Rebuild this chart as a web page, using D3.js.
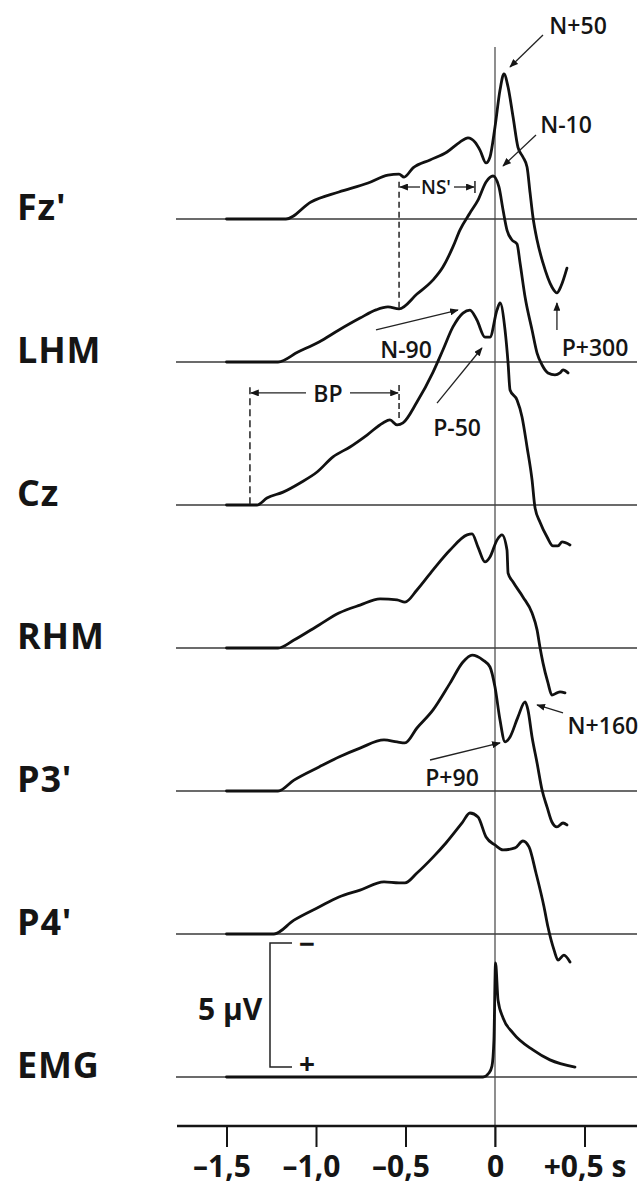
<!DOCTYPE html>
<html><head><meta charset="utf-8">
<script src="https://cdn.jsdelivr.net/npm/d3@7"></script>
<style>
html,body{margin:0;padding:0;background:#fff;}
svg{display:block;}
text{font-family:"Open Sans","DejaVu Sans",sans-serif;fill:#151515;}
</style></head><body>
<svg id="chart" width="641" height="1185"></svg>
<script>
// ---------- data ----------
const channels = ["Fz'", "LHM", "Cz", "RHM", "P3'", "P4'", "EMG"];
const timeTicks = [-1.5, -1.0, -0.5, 0, 0.5];
const timeTickLabels = ["–1,5", "–1,0", "–0,5", "0", "+0,5 s"];
const scaleBarMicroV = 5;

// [time (s), potential (µV)], negative plotted upward
const fzValues = [[-1.5,0],[-1.168,0],[-1.028,-0.69],[-0.872,-1.09],[-0.709,-1.45],[-0.598,-1.77],[-0.536,-1.81],[-0.508,-1.69],[-0.458,-2.06],[-0.363,-2.38],[-0.268,-2.70],[-0.196,-3.10],[-0.151,-3.27],[-0.112,-3.10],[-0.084,-2.78],[-0.050,-2.26],[-0.028,-2.50],[0.0,-3.71],[0.028,-5.20],[0.050,-5.85],[0.073,-5.32],[0.101,-4.11],[0.128,-2.90],[0.156,-2.50],[0.179,-2.10],[0.196,-1.05],[0.212,-0.08],[0.235,0.85],[0.268,1.77],[0.318,2.74],[0.346,2.98],[0.369,2.70],[0.402,1.98]];
const lhmValues = [[-1.5,0],[-1.212,0],[-1.101,-0.40],[-0.983,-0.81],[-0.872,-1.29],[-0.754,-1.77],[-0.665,-2.10],[-0.598,-2.22],[-0.536,-2.14],[-0.436,-2.74],[-0.346,-3.31],[-0.291,-3.83],[-0.235,-4.64],[-0.196,-5.32],[-0.140,-6.01],[-0.095,-6.53],[-0.050,-7.26],[-0.011,-7.50],[0.022,-7.06],[0.045,-6.13],[0.067,-5.32],[0.095,-4.92],[0.123,-4.76],[0.140,-3.99],[0.168,-2.62],[0.207,-1.29],[0.235,-0.36],[0.263,0.12],[0.296,0.44],[0.335,0.52],[0.363,0.44],[0.380,0.32],[0.408,0.44]];
const czValues = [[-1.5,0],[-1.330,0],[-1.274,-0.28],[-1.184,-0.52],[-1.089,-0.89],[-0.994,-1.33],[-0.905,-1.94],[-0.810,-2.34],[-0.715,-2.82],[-0.626,-3.31],[-0.587,-3.43],[-0.547,-3.23],[-0.514,-3.31],[-0.436,-4.15],[-0.346,-5.36],[-0.291,-6.25],[-0.235,-7.18],[-0.179,-7.74],[-0.140,-7.86],[-0.101,-7.46],[-0.056,-6.77],[-0.028,-6.77],[0.011,-7.86],[0.028,-8.15],[0.056,-7.06],[0.073,-5.73],[0.084,-4.64],[0.123,-4.23],[0.151,-3.55],[0.179,-2.34],[0.207,-1.01],[0.223,0.08],[0.251,0.69],[0.291,1.29],[0.324,1.65],[0.352,1.65],[0.374,1.49],[0.419,1.61]];
const rhmValues = [[-1.5,0],[-1.212,0],[-1.123,-0.32],[-0.983,-0.93],[-0.872,-1.41],[-0.754,-1.73],[-0.642,-1.98],[-0.547,-1.94],[-0.503,-1.85],[-0.436,-2.34],[-0.346,-3.15],[-0.251,-3.95],[-0.156,-4.56],[-0.128,-4.60],[-0.095,-4.07],[-0.056,-3.47],[-0.028,-3.67],[0.011,-4.35],[0.039,-4.56],[0.067,-3.95],[0.073,-3.02],[0.101,-2.66],[0.156,-2.06],[0.207,-1.41],[0.235,-0.73],[0.251,-0.04],[0.268,0.60],[0.296,1.41],[0.318,1.90],[0.346,1.81],[0.363,1.77],[0.391,1.81]];
const p3Values = [[-1.5,0],[-1.212,0],[-1.123,-0.44],[-0.983,-0.97],[-0.872,-1.37],[-0.754,-1.73],[-0.620,-2.06],[-0.547,-1.98],[-0.503,-1.94],[-0.436,-2.54],[-0.346,-3.27],[-0.251,-4.35],[-0.179,-5.20],[-0.128,-5.48],[-0.067,-5.28],[-0.028,-5.00],[0.0,-4.19],[0.028,-2.86],[0.056,-1.98],[0.084,-2.18],[0.128,-2.98],[0.168,-3.59],[0.184,-3.27],[0.207,-2.18],[0.235,-1.13],[0.263,-0.04],[0.291,0.65],[0.318,1.25],[0.346,1.45],[0.380,1.29],[0.402,1.37]];
const p4Values = [[-1.5,0],[-1.235,0],[-1.123,-0.56],[-0.983,-1.09],[-0.872,-1.49],[-0.754,-1.77],[-0.620,-2.10],[-0.536,-2.06],[-0.503,-2.06],[-0.436,-2.46],[-0.346,-3.10],[-0.274,-3.67],[-0.184,-4.48],[-0.140,-4.88],[-0.095,-4.72],[-0.050,-3.91],[0.0,-3.59],[0.045,-3.39],[0.112,-3.47],[0.156,-3.75],[0.190,-3.51],[0.229,-2.46],[0.274,-1.09],[0.296,-0.28],[0.330,0.65],[0.352,1.05],[0.385,0.85],[0.419,1.13]];
const emgValues = [[-1.5,0],[-0.067,0],[-0.034,-0.16],[-0.017,-0.44],[-0.006,-1.49],[0.003,-4.60],[0.017,-3.10],[0.045,-2.38],[0.101,-1.77],[0.212,-1.09],[0.307,-0.69],[0.447,-0.40]];
const seriesValues = [fzValues, lhmValues, czValues, rhmValues, p3Values, p4Values, emgValues];

// annotations: channel, text position (t, µV), arrow from/to (t, µV)
const peakLabels = ["N+50", "N-10", "N-90", "P+300", "P-50", "N+160", "P+90"];
const peakChannels = [0, 0, 2, 1, 2, 4, 4];
const peakTextPos = [[0.464,-7.82],[0.397,-3.83],[-0.497,-6.29],[0.559,-0.60],[-0.212,-3.15],[0.603,-2.66],[-0.240,-0.56]];
const peakArrowFrom = [[0.268,-7.42],[0.229,-3.39],[-0.665,-7.06],[0.346,-1.29],[-0.324,-4.11],[0.380,-3.15],[-0.363,-1.25]];
const peakArrowTo = [[0.084,-6.13],[0.045,-2.14],[-0.207,-7.86],[0.346,-2.38],[-0.073,-6.33],[0.235,-3.47],[0.028,-1.94]];

// intervals
const bpInterval = [-1.369, -0.536];   // BP on Cz
const nsInterval = [-0.536, -0.112];   // NS' on Fz'

// ---------- layout ----------
const svg = d3.select("#chart");
const x = d3.scaleLinear().domain([-1.5, 0.5]).range([226.5, 584.5]);
const chY = d3.scaleLinear().domain([0, 6]).range([219, 1077]);
const amp = d3.scaleLinear().domain([0, -scaleBarMicroV]).range([0, -124]);
const py = (ch, v) => chY(ch) + amp(v);
const axisY = 1126, lineX0 = 176, lineX1 = 637;

const defs = svg.append("defs");
defs.append("marker").attr("id","ah").attr("viewBox","0 0 10 8")
  .attr("refX",9).attr("refY",4).attr("markerWidth",9).attr("markerHeight",7)
  .attr("markerUnits","userSpaceOnUse").attr("orient","auto")
  .append("path").attr("d","M0,0 L10,4 L0,8 Z").attr("fill","#151515");

// baselines
svg.append("g").selectAll("line").data(channels).join("line")
  .attr("x1", lineX0).attr("x2", lineX1)
  .attr("y1", (d,i)=>chY(i)).attr("y2", (d,i)=>chY(i))
  .attr("stroke","#3a3a3a").attr("stroke-width",1.4);

// zero line
svg.append("line").attr("x1",x(0)).attr("x2",x(0))
  .attr("y1", py(0,-6.94)).attr("y2", axisY+21)
  .attr("stroke","#444").attr("stroke-width",1.2);

// channel labels
svg.append("g").selectAll("text").data(channels).join("text")
  .attr("x",17).attr("y",(d,i)=>chY(i)+1)
  .attr("font-size",36).attr("font-weight",700).attr("letter-spacing",0.8)
  .text(d=>d);

// traces
const line = d3.line().x(d=>x(d[0])).y(d=>amp(d[1])).curve(d3.curveMonotoneX);
svg.append("g").selectAll("path").data(seriesValues).join("path")
  .attr("transform",(d,i)=>`translate(0,${chY(i)})`)
  .attr("d", line).attr("fill","none").attr("stroke","#111")
  .attr("stroke-width",2.8).attr("stroke-linejoin","round").attr("stroke-linecap","round");

// time axis
const axis = d3.axisBottom(x).tickValues(timeTicks)
  .tickFormat((d,i)=>timeTickLabels[i]).tickSize(21).tickPadding(9);
const ag = svg.append("g").attr("transform",`translate(0,${axisY})`).call(axis);
ag.select(".domain").remove();
ag.selectAll(".tick line").attr("stroke","#151515").attr("stroke-width",2);
ag.selectAll(".tick text").attr("font-size",30).attr("font-weight",700)
  .attr("font-family","'Open Sans',sans-serif").attr("fill","#151515")
  .attr("dx",(d)=> d<0 ? -5 : 0);
ag.append("line").attr("x1",lineX0+1).attr("x2",lineX1).attr("y1",0).attr("y2",0)
  .attr("stroke","#151515").attr("stroke-width",2.6);

// peak annotations
const ann = svg.append("g");
peakLabels.forEach((lab,i)=>{
  const ch = peakChannels[i];
  ann.append("line")
    .attr("x1",x(peakArrowFrom[i][0])).attr("y1",py(ch,peakArrowFrom[i][1]))
    .attr("x2",x(peakArrowTo[i][0])).attr("y2",py(ch,peakArrowTo[i][1]))
    .attr("stroke","#222").attr("stroke-width",1.3).attr("marker-end","url(#ah)");
  ann.append("text").attr("x",x(peakTextPos[i][0])).attr("y",py(ch,peakTextPos[i][1]))
    .attr("text-anchor","middle").attr("dominant-baseline","central")
    .attr("font-size",23).attr("font-weight",600).text(lab);
});

// NS' interval on Fz'
const nsY = py(0,-1.29);
ann.append("line").attr("x1",x(nsInterval[0])).attr("x2",x(nsInterval[0]))
  .attr("y1",py(0,-1.5)).attr("y2",py(1,-2.14))
  .attr("stroke","#222").attr("stroke-width",1.5).attr("stroke-dasharray","6,4");
ann.append("line").attr("x1",x(nsInterval[1])).attr("x2",x(nsInterval[1]))
  .attr("y1",nsY-6).attr("y2",nsY+6).attr("stroke","#222").attr("stroke-width",1.5);
const nsMid = (nsInterval[0]+nsInterval[1])/2;
ann.append("line").attr("x1",x(nsMid)-17).attr("x2",x(nsInterval[0])+1).attr("y1",nsY).attr("y2",nsY)
  .attr("stroke","#222").attr("stroke-width",1.3).attr("marker-end","url(#ah)");
ann.append("line").attr("x1",x(nsMid)+17).attr("x2",x(nsInterval[1])-1).attr("y1",nsY).attr("y2",nsY)
  .attr("stroke","#222").attr("stroke-width",1.3).attr("marker-end","url(#ah)");
ann.append("rect").attr("x",x(nsMid)-16).attr("y",nsY-10).attr("width",30).attr("height",20).attr("fill","#fff");
ann.append("text").attr("x",x(nsMid)-1).attr("y",nsY).attr("text-anchor","middle")
  .attr("dominant-baseline","central").attr("font-size",19).attr("font-weight",600).text("NS'");

// BP interval on Cz
const bpY = py(2,-4.52);
ann.append("line").attr("x1",x(bpInterval[0])).attr("x2",x(bpInterval[0]))
  .attr("y1",py(2,-4.75)).attr("y2",chY(2))
  .attr("stroke","#222").attr("stroke-width",1.5).attr("stroke-dasharray","7,4");
ann.append("line").attr("x1",x(bpInterval[1])).attr("x2",x(bpInterval[1]))
  .attr("y1",py(2,-4.84)).attr("y2",py(2,-3.43))
  .attr("stroke","#222").attr("stroke-width",1.5).attr("stroke-dasharray","6,3");
const bpMid = -0.933;
ann.append("line").attr("x1",x(bpMid)-22).attr("x2",x(bpInterval[0])+1).attr("y1",bpY).attr("y2",bpY)
  .attr("stroke","#222").attr("stroke-width",1.3).attr("marker-end","url(#ah)");
ann.append("line").attr("x1",x(bpMid)+22).attr("x2",x(bpInterval[1])-1).attr("y1",bpY).attr("y2",bpY)
  .attr("stroke","#222").attr("stroke-width",1.3).attr("marker-end","url(#ah)");
ann.append("text").attr("x",x(bpMid)).attr("y",bpY).attr("text-anchor","middle")
  .attr("dominant-baseline","central").attr("font-size",23).attr("font-weight",600).text("BP");

// 5 µV scale bar
const sbX0 = x(-1.257), sbX1 = x(-1.134);
const sbTop = py(6,-5.4), sbBot = py(6,-5.4+scaleBarMicroV);
svg.append("path").attr("d",`M${sbX1},${sbTop}H${sbX0}V${sbBot}H${sbX1}`)
  .attr("fill","none").attr("stroke","#222").attr("stroke-width",1.5);
svg.append("text").attr("x",x(-1.05)).attr("y",sbTop).attr("text-anchor","middle")
  .attr("dominant-baseline","central").attr("font-size",28).attr("font-weight",700).text("−");
svg.append("text").attr("x",x(-1.05)).attr("y",sbBot-4).attr("text-anchor","middle")
  .attr("dominant-baseline","central").attr("font-size",28).attr("font-weight",700).text("+");
svg.append("text").attr("x",x(-1.30)).attr("y",(sbTop+sbBot)/2+3).attr("text-anchor","end")
  .attr("dominant-baseline","central").attr("font-size",30).attr("font-weight",700).text(scaleBarMicroV+" μV");
</script>
</body></html>
